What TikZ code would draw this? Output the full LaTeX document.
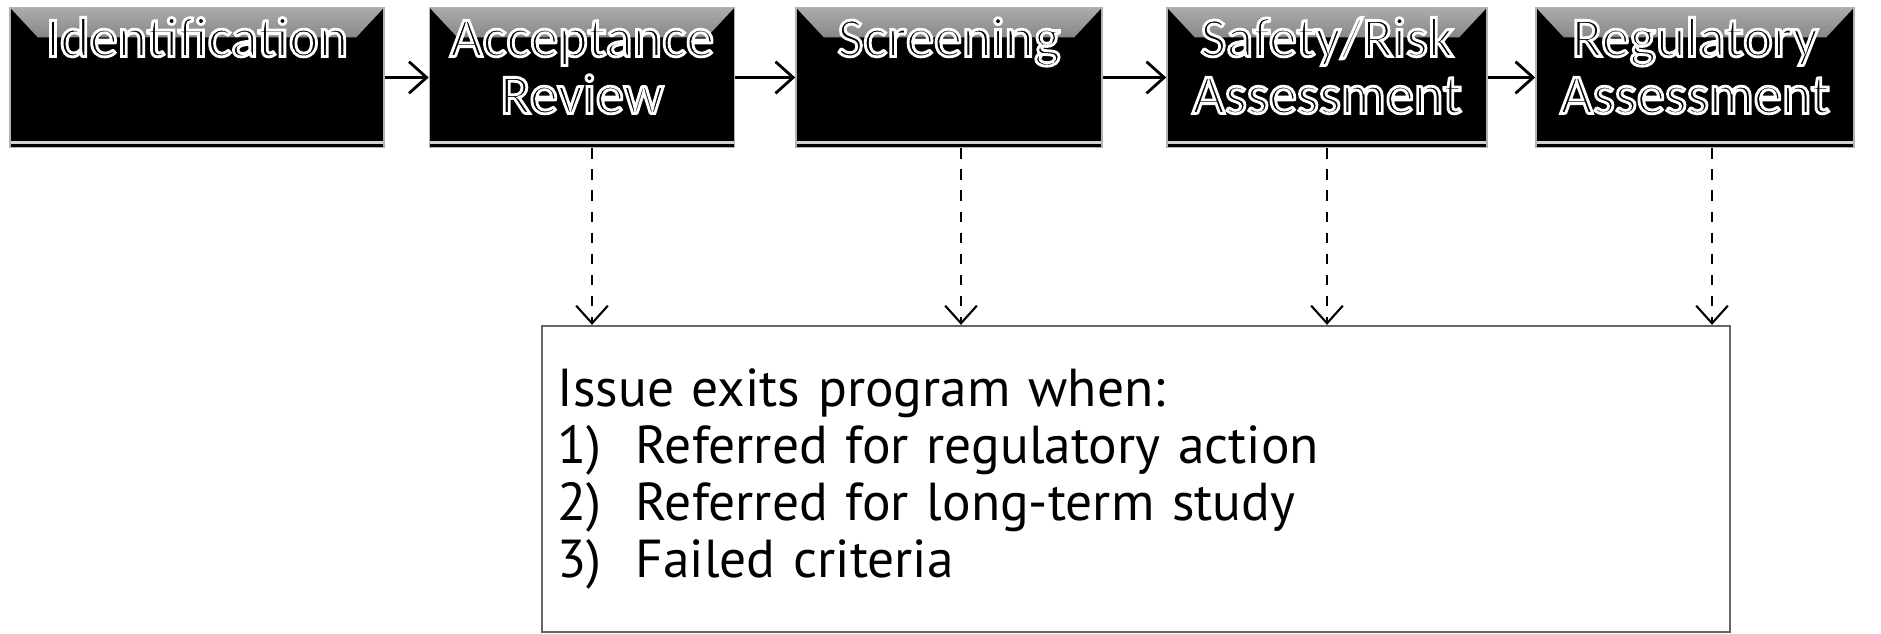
\documentclass[tikz,border=0pt]{standalone}
\usepackage{fontspec}
\usetikzlibrary{arrows.meta,positioning,calc}
\newfontfamily\headfont{Carlito}
\newfontfamily\bodyfont{PT Sans}
\newcommand{\steptitle}[2]{\parbox[c][1.40cm][t]{#1}{\centering\lineskiplimit=-20pt
 \special{pdf:literal direct 2 Tr 0.8 w 1 1 1 RG}\rule{0pt}{0.49cm}#2\special{pdf:literal direct 0 Tr}}}

\begin{document}
\begin{tikzpicture}[x=0.01cm,y=-0.01cm,
 stepbox/.style={draw=gray!60,fill=black,minimum height=1.40cm,inner sep=0pt,text=black,
  font=\headfont\fontsize{16}{16.2}\selectfont,
  path picture={
   \shade[top color=gray!65,bottom color=black] (path picture bounding box.north west) -- (path picture bounding box.north east)
    -- ([xshift=-0.28cm,yshift=-0.3cm]path picture bounding box.north east) -- ([xshift=0.28cm,yshift=-0.3cm]path picture bounding box.north west) -- cycle;
   \draw[gray!35,line width=1pt] ([yshift=0.05cm]path picture bounding box.south west) -- ([yshift=0.05cm]path picture bounding box.south east);}},
 flow/.style={-{Straight Barb[length=5pt,width=9pt]},line width=0.8pt},
 exitflow/.style={flow,dashed,line width=0.6pt},
 exitbox/.style={draw=black!60,line width=0.6pt,minimum width=11.88cm,minimum height=3.06cm,
  text width=11.56cm,inner xsep=0.16cm,align=left,font=\bodyfont\fontsize{15.2}{16.2}\selectfont}]
\useasboundingbox (0,0) rectangle (1881,634);
% process steps
\node[stepbox,minimum width=3.74cm] (ident) at (197,77.5) {\steptitle{3.7cm}{Identification}};
\node[stepbox,minimum width=3.05cm] (accept) at (582,77.5) {\steptitle{3cm}{Acceptance\\Review}};
\node[stepbox,minimum width=3.06cm] (screen) at (949,77.5) {\steptitle{3cm}{Screening}};
\node[stepbox,minimum width=3.20cm] (safety) at (1327,77.5) {\steptitle{3.1cm}{Safety/Risk\\Assessment}};
\node[stepbox,minimum width=3.18cm] (regul) at (1695,77.5) {\steptitle{3.1cm}{Regulatory\\Assessment}};
% exit criteria
\node[exitbox] (exit) at (1136,479) {Issue exits program when:\\
1)\hspace{0.3em} Referred for regulatory action\\
2)\hspace{0.3em} Referred for long-term study\\
3)\hspace{0.3em} Failed criteria};
\draw[flow] (ident) -- (accept);
\draw[flow] (accept) -- (screen);
\draw[flow] (screen) -- (safety);
\draw[flow] (safety) -- (regul);
\draw[exitflow] ([xshift=0.10cm]accept.south) -- ([xshift=0.10cm]accept.south |- exit.north);
\draw[exitflow] ([xshift=0.12cm]screen.south) -- ([xshift=0.12cm]screen.south |- exit.north);
\draw[exitflow] (safety.south) -- (safety.south |- exit.north);
\draw[exitflow] ([xshift=0.17cm]regul.south) -- ([xshift=0.17cm]regul.south |- exit.north);
\end{tikzpicture}
\end{document}
